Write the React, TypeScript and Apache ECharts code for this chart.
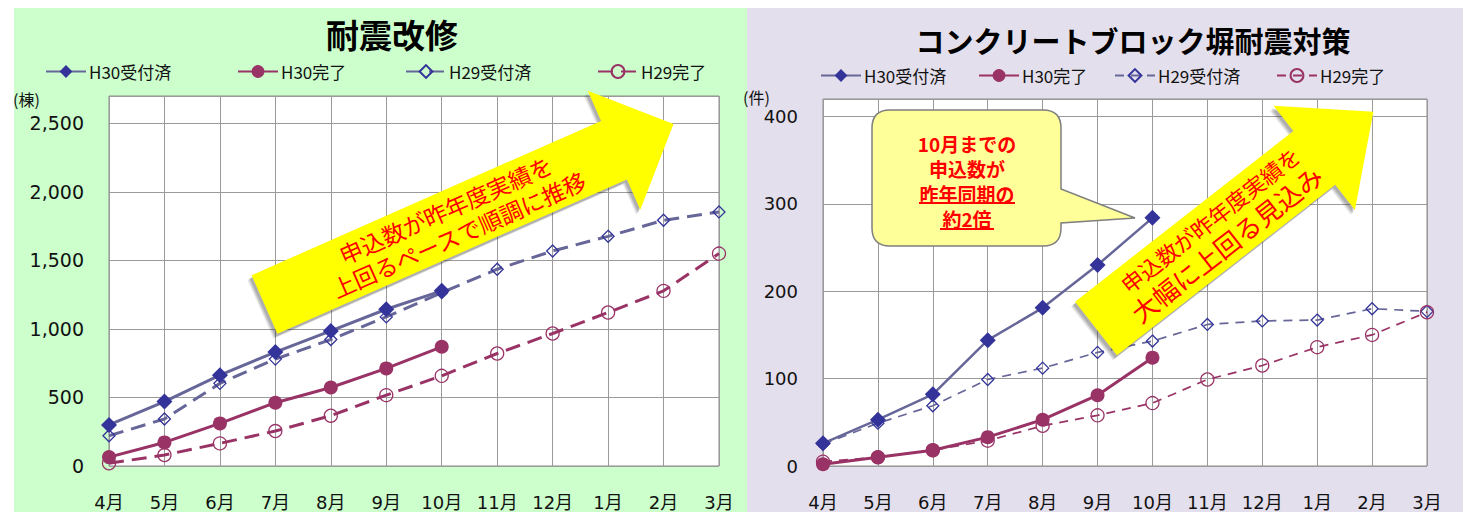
import React, { useEffect, useRef } from "react";
import * as echarts from "echarts";

const months = ["4月", "5月", "6月", "7月", "8月", "9月", "10月", "11月", "12月", "1月", "2月", "3月"];
const legendNames = ["H30受付済", "H30完了", "H29受付済", "H29完了"];

// 耐震改修 (棟)
const kaishuH30Jufu = [300, 470, 663, 831, 986, 1144, 1278];
const kaishuH30Kanryo = [65, 172, 311, 462, 573, 712, 870];
const kaishuH29Jufu = [221, 343, 603, 780, 923, 1088, 1265, 1436, 1569, 1676, 1793, 1854];
const kaishuH29Kanryo = [20, 80, 165, 255, 367, 517, 658, 821, 967, 1120, 1278, 1550];

// コンクリートブロック塀耐震対策 (件)
const blockH30Jufu = [26, 53, 82, 144, 181, 230, 284];
const blockH30Kanryo = [2, 10, 18, 33, 53, 81, 124];
const blockH29Jufu = [25, 49, 69, 99, 112, 130, 143, 162, 166, 167, 180, 177];
const blockH29Kanryo = [5, 10, 18, 29, 46, 58, 72, 99, 115, 136, 150, 176];

const leftTitle = "耐震改修";
const rightTitle = "コンクリートブロック塀耐震対策";
const leftUnit = "(棟)";
const rightUnit = "(件)";
const leftArrowLines = ["申込数が昨年度実績を", "上回るペースで順調に推移"];
const rightArrowLines = ["申込数が昨年度実績を", "大幅に上回る見込み"];
const calloutLines = ["10月までの", "申込数が", "昨年同期の", "約2倍"];

const CJK = '"Noto Sans CJK JP", sans-serif';
const NUM = '"DejaVu Sans", "Noto Sans CJK JP", sans-serif';

const calloutD =
  "M890,110 H1043 Q1061,110 1061,128 V189 L1135,218 L1061,223 V228 Q1061,246 1043,246 H890 Q872,246 872,228 V128 Q872,110 890,110 Z";
echarts.graphic.registerShape("callout", echarts.graphic.extendPath(calloutD, {}) as any);

const deg = Math.PI / 180;
function arrowPoints(L: number, h: number, H: number, s: number) {
  return [
    [0, -s],
    [L - h, -s],
    [L - h, -H],
    [L, 0],
    [L - h, H],
    [L - h, s],
    [0, s],
  ];
}

const C_BLUE_LINE = "#666699";
const C_BLUE_MARK = "#333399";
const C_RED = "#993366";

function buildSeries(
  suffix: string,
  gridIdx: number,
  h30j: number[],
  h30k: number[],
  h29j: number[],
  h29k: number[],
  thin: boolean
) {
  const base = { type: "line", xAxisIndex: gridIdx, yAxisIndex: gridIdx, animation: false, silent: true };
  return [
    {
      ...base,
      name: legendNames[2] + suffix,
      data: h29j,
      symbol: "diamond",
      symbolSize: 12,
      z: 2,
      lineStyle: { color: C_BLUE_LINE, width: thin ? 1.7 : 3, type: thin ? [9, 7] : [15, 8] },
      itemStyle: { color: "rgba(255,255,255,0)", borderColor: C_BLUE_MARK, borderWidth: 1.3 },
    },
    {
      ...base,
      name: legendNames[3] + suffix,
      data: h29k,
      symbol: "circle",
      symbolSize: 13,
      z: 2,
      lineStyle: { color: C_RED, width: thin ? 1.7 : 3, type: thin ? [9, 7] : [15, 8] },
      itemStyle: { color: "rgba(255,255,255,0)", borderColor: C_RED, borderWidth: 1.3 },
    },
    {
      ...base,
      name: legendNames[0] + suffix,
      data: h30j,
      symbol: "diamond",
      symbolSize: 16,
      z: 3,
      lineStyle: { color: C_BLUE_LINE, width: thin ? 2.5 : 3 },
      itemStyle: { color: C_BLUE_MARK },
    },
    {
      ...base,
      name: legendNames[1] + suffix,
      data: h30k,
      symbol: "circle",
      symbolSize: 14,
      z: 3,
      lineStyle: { color: C_RED, width: 3 },
      itemStyle: { color: C_RED },
    },
  ];
}

function legendItem(name: string, left: number, top: number) {
  return {
    data: [name],
    left,
    top,
    padding: 0,
    itemWidth: 40,
    itemHeight: 16,
    itemGap: 4,
    selectedMode: false,
    formatter: (n: string) => n.trim(),
    textStyle: { fontFamily: CJK, fontSize: 17, color: "#111", padding: [0, 0, 0, -2] },
  };
}

function shadowLayers(x: number, y: number, rot: number, pts: number[][]) {
  const layers = [
    { dx: -4, dy: 5, a: 0.12 },
    { dx: -3, dy: 4, a: 0.16 },
    { dx: -2, dy: 3, a: 0.2 },
  ];
  return layers.map((l) => ({
    type: "polygon",
    z: 59,
    silent: true,
    x: x + l.dx,
    y: y + l.dy,
    rotation: rot,
    shape: { points: pts },
    style: { fill: `rgba(60,60,60,${l.a})` },
  }));
}

export default function App() {
  const ref = useRef<HTMLDivElement>(null);

  useEffect(() => {
    if (!ref.current) return;
    const chart = echarts.init(ref.current, null, { renderer: "svg" });

    const xAxisCommon = {
      type: "category",
      data: months,
      boundaryGap: false,
      axisLine: { show: false },
      axisTick: { show: false },
      splitLine: { show: true, lineStyle: { color: "#9a9a9a", width: 1 } },
      axisLabel: { color: "#111", fontFamily: NUM, fontSize: 18, margin: 27 },
    };
    const yAxisCommon = {
      type: "value",
      axisLine: { show: false },
      axisTick: { show: false },
      splitLine: { show: true, lineStyle: { color: "#9a9a9a", width: 1 } },
    };

    const leftLegendX = [45, 237, 405, 597];
    const rightLegendX = [820, 978, 1114, 1276];
    const legends: any[] = [];
    legendNames.forEach((n, i) => legends.push(legendItem(n, leftLegendX[i], 63)));
    legendNames.forEach((n, i) => legends.push(legendItem(n + " ", rightLegendX[i], 67)));

    const leftPts = arrowPoints(447, 65, 65, 32);
    const rightPts = arrowPoints(352, 75, 66, 34);

    const option: any = {
      animation: false,
      grid: [
        { left: 109, top: 96, width: 610, height: 370, show: true, backgroundColor: "#fff", borderColor: "#8a8a8a", borderWidth: 1 },
        { left: 823, top: 99, width: 604, height: 367, show: true, backgroundColor: "#fff", borderColor: "#8a8a8a", borderWidth: 1 },
      ],
      xAxis: [
        { ...xAxisCommon, gridIndex: 0 },
        { ...xAxisCommon, gridIndex: 1 },
      ],
      yAxis: [
        {
          ...yAxisCommon,
          gridIndex: 0,
          min: 0,
          max: 2700,
          interval: 500,
          axisLabel: {
            color: "#111",
            fontFamily: NUM,
            fontSize: 19,
            margin: 25,
            showMaxLabel: false,
            formatter: (v: number) => (v > 2500 ? "" : v.toLocaleString("en-US")),
          },
        },
        {
          ...yAxisCommon,
          gridIndex: 1,
          min: 0,
          max: 420,
          interval: 100,
          axisLabel: {
            color: "#111",
            fontFamily: NUM,
            fontSize: 18,
            margin: 25,
            showMaxLabel: false,
            formatter: (v: number) => (v > 400 ? "" : String(v)),
          },
        },
      ],
      legend: legends,
      series: [
        ...buildSeries("", 0, kaishuH30Jufu, kaishuH30Kanryo, kaishuH29Jufu, kaishuH29Kanryo, false),
        ...buildSeries(" ", 1, blockH30Jufu, blockH30Kanryo, blockH29Jufu, blockH29Kanryo, true),
      ],
      graphic: [
        { type: "rect", z: -10, silent: true, shape: { x: 14, y: 8, width: 733, height: 504 }, style: { fill: "#CCFFCC" } },
        { type: "rect", z: -10, silent: true, shape: { x: 747, y: 8, width: 716, height: 504 }, style: { fill: "#E4DFEC" } },
        {
          type: "text", z: 50, x: 392, y: 34,
          style: { text: leftTitle, font: `bold 33px ${CJK}`, fill: "#000", align: "center", verticalAlign: "middle" },
        },
        {
          type: "text", z: 50, x: 1133, y: 40,
          style: { text: rightTitle, font: `bold 29px ${CJK}`, fill: "#000", align: "center", verticalAlign: "middle" },
        },
        {
          type: "text", z: 50, x: 13, y: 99,
          style: { text: leftUnit, font: `16px ${CJK}`, fill: "#111", align: "left", verticalAlign: "middle" },
        },
        {
          type: "text", z: 50, x: 743, y: 97,
          style: { text: rightUnit, font: `16px ${CJK}`, fill: "#111", align: "left", verticalAlign: "middle" },
        },
        // arrow shadows
        ...shadowLayers(264.5, 304.5, 23.8 * deg, leftPts),
        ...shadowLayers(1096, 328.5, 38 * deg, rightPts),
        // left arrow
        {
          type: "group", z: 60, x: 264.5, y: 304.5, rotation: 23.8 * deg,
          children: [
            { type: "polygon", z: 60, shape: { points: leftPts }, style: { fill: "#FFFF00" } },
            {
              type: "text", z: 61, x: 204, y: -14,
              style: { text: leftArrowLines[0], font: `23px ${CJK}`, fill: "#FF0000", align: "center", verticalAlign: "middle" },
            },
            {
              type: "text", z: 61, x: 206, y: 14,
              style: { text: leftArrowLines[1], font: `23px ${CJK}`, fill: "#FF0000", align: "center", verticalAlign: "middle" },
            },
          ],
        },
        // right arrow
        {
          type: "group", z: 60, x: 1096, y: 328.5, rotation: 38 * deg,
          children: [
            { type: "polygon", z: 60, shape: { points: rightPts }, style: { fill: "#FFFF00" } },
            {
              type: "text", z: 61, x: 157, y: -16,
              style: { text: rightArrowLines[0], font: `22px ${CJK}`, fill: "#FF0000", align: "center", verticalAlign: "middle" },
            },
            {
              type: "text", z: 61, x: 155, y: 13,
              style: { text: rightArrowLines[1], font: `26px ${CJK}`, fill: "#FF0000", align: "center", verticalAlign: "middle" },
            },
          ],
        },
        // callout
        {
          type: "callout", z: 55, x: 0, y: 0,
          style: { fill: "#FFFF99", stroke: "#7f7f7f", lineWidth: 1.5 },
        },
        ...calloutLines.map((t, i) => ({
          type: "text", z: 56, x: 967, y: 143 + i * 25,
          style: { text: t, font: `bold 19px ${CJK}`, fill: "#FF0000", align: "center", verticalAlign: "middle" },
        })),
        { type: "line", z: 56, shape: { x1: 919, y1: 203, x2: 1015, y2: 203 }, style: { stroke: "#FF0000", lineWidth: 2 } },
        { type: "line", z: 56, shape: { x1: 940, y1: 229, x2: 994, y2: 229 }, style: { stroke: "#FF0000", lineWidth: 2 } },
      ],
    };

    chart.setOption(option);
    return () => chart.dispose();
  }, []);

  return (
    <div
      ref={ref}
      style={{ position: "fixed", left: 0, top: 0, width: 1463, height: 512, background: "#fff" }}
    />
  );
}
